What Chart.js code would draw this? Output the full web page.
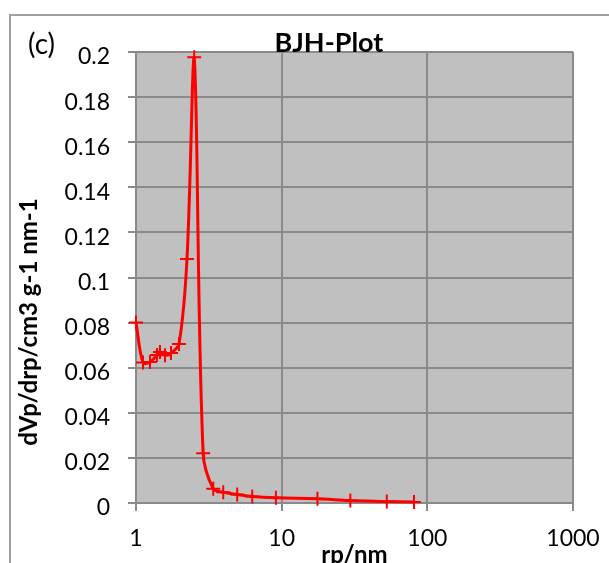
<!DOCTYPE html>
<html>
<head>
<meta charset="utf-8">
<script src="https://cdn.jsdelivr.net/npm/chart.js@4.4.0/dist/chart.umd.min.js"></script>
<style>
  html, body { margin: 0; padding: 0; background: #ffffff; }
  #wrap { width: 609px; height: 563px; position: relative; }
</style>
</head>
<body>
<div id="wrap"><canvas id="c" width="609" height="563"></canvas></div>
<script>
// Pore radius (nm) and dVp/drp values
const poreRadius = [1.0, 1.117, 1.247, 1.393, 1.461, 1.581, 1.739, 1.973, 2.239, 2.51, 2.89, 3.39, 3.97, 4.95, 6.28, 9.13, 17.6, 29.6, 52.7, 81.0];
const dVdr = [0.080, 0.0623, 0.0625, 0.0656, 0.0670, 0.0655, 0.0665, 0.0705, 0.1082, 0.1977, 0.0221, 0.0063, 0.0048, 0.0038, 0.0029, 0.0023, 0.0019, 0.0011, 0.0007, 0.0004];
const xTickValues = [1, 10, 100, 1000];
const yTickLabels = ['0', '0.02', '0.04', '0.06', '0.08', '0.1', '0.12', '0.14', '0.16', '0.18', '0.2'];

const chartTitle = 'BJH-Plot';
const panelLabel = '(c)';
const xTitle = 'rp/nm';
const yTitle = 'dVp/drp/cm3 g-1 nm-1';

const FONT = 'Lato, "Open Sans", sans-serif';
const GRID = '#8a8a8a';

const points = poreRadius.map((r, i) => ({ x: r, y: dVdr[i] }));

const decor = {
  id: 'decor',
  beforeDraw(chart) {
    const { ctx, chartArea: a } = chart;
    ctx.save();
    ctx.fillStyle = '#c0c0c0';
    ctx.fillRect(a.left, a.top, a.right - a.left, a.bottom - a.top);
    ctx.restore();
  },
  afterDraw(chart) {
    const { ctx, chartArea: a } = chart;
    ctx.save();
    // outer frame
    ctx.strokeStyle = '#a0a0a0';
    ctx.lineWidth = 2;
    ctx.beginPath();
    ctx.moveTo(10, 563);
    ctx.lineTo(10, 15);
    ctx.lineTo(609, 15);
    ctx.stroke();

    ctx.fillStyle = '#000';
    ctx.textAlign = 'center';
    ctx.textBaseline = 'alphabetic';
    ctx.font = 'bold 27px ' + FONT;
    ctx.fillText(chartTitle, 329, 52);

    ctx.font = '28px ' + FONT;
    ctx.textAlign = 'left';
    ctx.fillText(panelLabel, 28, 54);

    ctx.textAlign = 'center';
    ctx.font = 'bold 24px ' + FONT;
    ctx.fillText(xTitle, (a.left + a.right) / 2, 563);

    ctx.translate(37, 322);
    ctx.rotate(-Math.PI / 2);
    ctx.fillText(yTitle, 0, 0);
    ctx.restore();
  }
};

new Chart(document.getElementById('c'), {
  type: 'scatter',
  data: {
    datasets: [{
      data: points,
      showLine: true,
      borderColor: '#ff0000',
      backgroundColor: '#ff0000',
      borderWidth: 3,
      tension: 0.35,
      pointStyle: 'cross',
      pointRadius: 7,
      pointHoverRadius: 7,
      pointBorderWidth: 2,
      pointBorderColor: '#ff0000',
      clip: { left: 10, top: 2, right: 10, bottom: 10 }
    }]
  },
  plugins: [decor],
  options: {
    responsive: false,
    animation: false,
    events: [],
    layout: { padding: { left: 0, top: 52, right: 36, bottom: 0 } },
    plugins: { legend: { display: false }, title: { display: false }, tooltip: { enabled: false } },
    scales: {
      x: {
        type: 'logarithmic',
        min: 1,
        max: 1000,
        afterBuildTicks(scale) { scale.ticks = xTickValues.map(v => ({ value: v, major: true })); },
        afterFit(scale) { scale.height = 60; scale.paddingLeft = 0; scale.paddingRight = 0; },
        grid: { color: GRID, lineWidth: 2, tickLength: 8, drawTicks: true },
        border: { display: true, color: GRID, width: 2 },
        ticks: {
          color: '#000',
          font: { family: FONT, size: 23 },
          padding: 14,
          maxRotation: 0,
          autoSkip: false,
          callback: (v) => String(v)
        }
      },
      y: {
        min: 0,
        max: 0.2,
        afterBuildTicks(scale) { scale.ticks = yTickLabels.map(t => ({ value: parseFloat(t) })); },
        afterFit(scale) { scale.width = 136; scale.paddingTop = 0; scale.paddingBottom = 0; },
        grid: { color: GRID, lineWidth: 2, tickLength: 8, drawTicks: true },
        border: { display: true, color: GRID, width: 2 },
        ticks: {
          color: '#000',
          font: { family: FONT, size: 23 },
          padding: 18,
          labelOffset: 5,
          autoSkip: false,
          callback: (v, i) => yTickLabels[i]
        }
      }
    }
  }
});
</script>
</body>
</html>
